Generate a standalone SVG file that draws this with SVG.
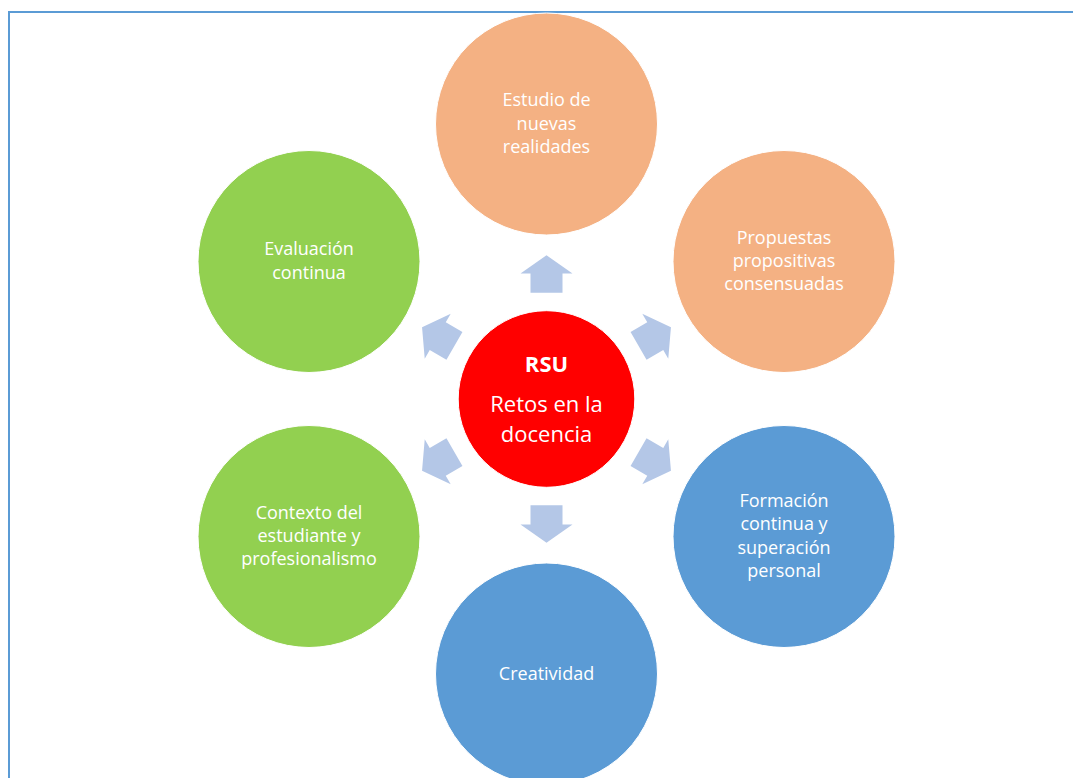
<svg xmlns="http://www.w3.org/2000/svg" width="1073" height="778" viewBox="0 0 1073 778">
  <style>
    .lbl { font-family: "Open Sans", "Liberation Sans", sans-serif; font-size: 18px; fill: #FFFFFF; text-anchor: middle; }
    .ctr { font-family: "Open Sans", "Liberation Sans", sans-serif; font-size: 22px; fill: #FFFFFF; text-anchor: middle; }
    .orange { fill: #F4B183; stroke: #FFFFFF; stroke-width: 1; }
    .green { fill: #92D050; stroke: #FFFFFF; stroke-width: 1; }
    .blue { fill: #5B9BD5; stroke: #FFFFFF; stroke-width: 1; }
    .arrow { fill: #B4C7E7; }
  </style>
  <defs>
    <polygon id="arr" points="-16,-106.3 -16,-125.6 -26,-125.6 0,-143.7 26,-125.6 16,-125.6 16,-106.3"/>
  </defs>
  <rect x="0" y="0" width="1073" height="778" fill="#FFFFFF"/>
  <rect x="9" y="12" width="1100" height="800" fill="none" stroke="#5B9BD5" stroke-width="2"/>

  <g id="connectors" class="arrow">
    <use href="#arr" transform="translate(546.5,399) rotate(0)"/>
    <use href="#arr" transform="translate(546.5,399) rotate(60)"/>
    <use href="#arr" transform="translate(546.5,399) rotate(120)"/>
    <use href="#arr" transform="translate(546.5,399) rotate(180)"/>
    <use href="#arr" transform="translate(546.5,399) rotate(240)"/>
    <use href="#arr" transform="translate(546.5,399) rotate(300)"/>
  </g>

  <g id="center">
    <circle cx="546.5" cy="399" r="88.3" fill="#FF0000" stroke="#FFFFFF" stroke-width="1"/>
    <text class="ctr" x="546.5" y="371.7" font-weight="bold">RSU</text>
    <text class="ctr" x="546.5" y="411.7">Retos en la</text>
    <text class="ctr" x="546.5" y="441.7">docencia</text>
  </g>

  <g id="estudio">
    <circle class="orange" cx="546.5" cy="124" r="111"/>
    <text class="lbl" x="546.5" y="106.2">Estudio de</text>
    <text class="lbl" x="546.5" y="129.5">nuevas</text>
    <text class="lbl" x="546.5" y="152.8">realidades</text>
  </g>

  <g id="propuestas">
    <circle class="orange" cx="784" cy="261.5" r="111"/>
    <text class="lbl" x="784" y="243.7">Propuestas</text>
    <text class="lbl" x="784" y="267">propositivas</text>
    <text class="lbl" x="784" y="290.3">consensuadas</text>
  </g>

  <g id="formacion">
    <circle class="blue" cx="784" cy="536.5" r="111"/>
    <text class="lbl" x="784" y="507">Formación</text>
    <text class="lbl" x="784" y="530.3">continua y</text>
    <text class="lbl" x="784" y="553.6">superación</text>
    <text class="lbl" x="784" y="576.9">personal</text>
  </g>

  <g id="creatividad">
    <circle class="blue" cx="546.5" cy="674" r="111"/>
    <text class="lbl" x="546.5" y="679.5">Creatividad</text>
  </g>

  <g id="contexto">
    <circle class="green" cx="309" cy="536.5" r="111"/>
    <text class="lbl" x="309" y="518.7">Contexto del</text>
    <text class="lbl" x="309" y="542">estudiante y</text>
    <text class="lbl" x="309" y="565.3">profesionalismo</text>
  </g>

  <g id="evaluacion">
    <circle class="green" cx="309" cy="261.5" r="111"/>
    <text class="lbl" x="309" y="255.3">Evaluación</text>
    <text class="lbl" x="309" y="278.6">continua</text>
  </g>
</svg>
